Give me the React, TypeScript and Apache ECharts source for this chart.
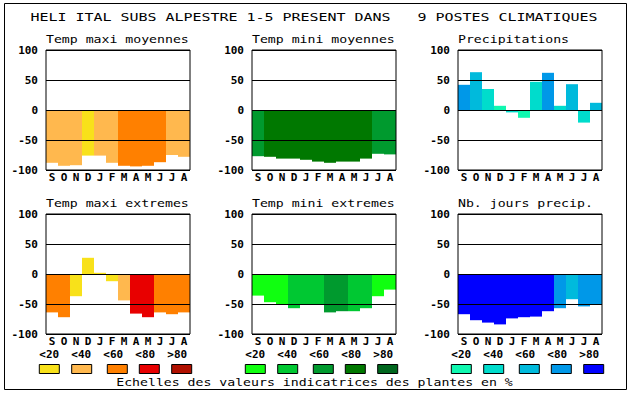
import React, { useEffect, useRef } from 'react';
import * as echarts from 'echarts';

const months = ['S', 'O', 'N', 'D', 'J', 'F', 'M', 'A', 'M', 'J', 'J', 'A'];
const yTicks = { min: -100, max: 100, interval: 50 };

const mainTitle = 'HELI ITAL SUBS ALPESTRE 1-5 PRESENT DANS   9 POSTES CLIMATIQUES';
const panelTitles = [
  'Temp maxi moyennes',
  'Temp mini moyennes',
  'Precipitations',
  'Temp maxi extremes',
  'Temp mini extremes',
  'Nb. jours precip.',
];
const scaleLabels = ['<20', '<40', '<60', '<80', '>80'];
const caption = 'Echelles des valeurs indicatrices des plantes en %';

const warmPalette = ['#F8E11A', '#FFB84E', '#FF8000', '#E80000', '#B01000'];
const greenPalette = ['#10FF10', '#00C832', '#009A2E', '#007800', '#00661E'];
const bluePalette = ['#10F8B0', '#00DCCC', '#00BADC', '#0098E8', '#0000FF'];

const tmaxMoy = [-88, -93, -92, -76, -76, -88, -93, -94, -93, -87, -75, -78];
const tmaxMoyClass = [1, 1, 1, 0, 1, 1, 2, 2, 2, 2, 1, 1];

const tminMoy = [-77, -78, -81, -81, -83, -86, -88, -86, -86, -81, -73, -74];
const tminMoyClass = [2, 3, 3, 3, 3, 3, 3, 3, 3, 3, 2, 2];

const precip = [42, 63, 35, 7, -4, -13, 47, 62, 7, 43, -21, 12];
const precipClass = [3, 2, 1, 0, 1, 0, 1, 3, 1, 2, 1, 2];

const tmaxExt = [-64, -72, -37, 27, 2, -12, -44, -66, -72, -64, -67, -64];
const tmaxExtClass = [2, 2, 0, 0, 0, 0, 1, 3, 3, 2, 2, 2];

const tminExt = [-36, -47, -50, -57, -50, -50, -64, -62, -62, -57, -37, -26];
const tminExtClass = [0, 0, 0, 1, 1, 1, 2, 2, 1, 1, 0, 0];

const nbJours = [-67, -77, -81, -84, -74, -72, -71, -62, -57, -42, -54, -50];
const nbJoursClass = [4, 4, 4, 4, 4, 4, 4, 4, 3, 2, 3, 3];

const panels = [
  { values: tmaxMoy, cls: tmaxMoyClass, palette: warmPalette },
  { values: tminMoy, cls: tminMoyClass, palette: greenPalette },
  { values: precip, cls: precipClass, palette: bluePalette },
  { values: tmaxExt, cls: tmaxExtClass, palette: warmPalette },
  { values: tminExt, cls: tminExtClass, palette: greenPalette },
  { values: nbJours, cls: nbJoursClass, palette: bluePalette },
];
const legendPalettes = [warmPalette, greenPalette, bluePalette];

const FONT = "'DejaVu Sans Mono', 'Liberation Mono', monospace";

export default function App() {
  const ref = useRef<HTMLDivElement>(null);
  useEffect(() => {
    const chart = echarts.init(ref.current!, null, { renderer: 'svg' });
    const lefts = [46, 252, 458];
    const tops = [50, 214];
    const W = 144;
    const H = 120;

    const grids: any[] = [];
    const xAxes: any[] = [];
    const yAxes: any[] = [];
    const series: any[] = [];
    const graphics: any[] = [];

    panels.forEach((p, i) => {
      const left = lefts[i % 3];
      const top = tops[Math.floor(i / 3)];
      grids.push({
        left,
        top,
        width: W,
        height: H,
        show: true,
        borderColor: '#000',
        borderWidth: 1,
        backgroundColor: 'transparent',
        z: 5,
      });
      xAxes.push({
        type: 'category',
        gridIndex: i,
        data: months,
        axisLine: { show: false },
        axisTick: { show: false },
        splitLine: { show: false },
        axisLabel: {
          interval: 0,
          margin: 2,
          color: '#000',
          fontFamily: FONT,
          fontWeight: 'bold',
          fontSize: 11,
        },
      });
      yAxes.push({
        type: 'value',
        gridIndex: i,
        min: yTicks.min,
        max: yTicks.max,
        interval: yTicks.interval,
        z: 6,
        axisLine: { show: false },
        axisTick: { show: false },
        splitLine: { show: true, lineStyle: { color: '#000', width: 1 } },
        axisLabel: {
          margin: 8,
          color: '#000',
          fontFamily: FONT,
          fontWeight: 'bold',
          fontSize: 11,
        },
      });
      series.push({
        type: 'bar',
        xAxisIndex: i,
        yAxisIndex: i,
        barCategoryGap: '0%',
        barGap: '0%',
        z: 2,
        data: p.values.map((v, k) => ({
          value: v,
          itemStyle: { color: p.palette[p.cls[k]] },
        })),
      });
      graphics.push({
        type: 'text',
        x: left,
        y: top - 11,
        scaleX: 1.2,
        style: {
          text: panelTitles[i],
          fontFamily: FONT,
          fontSize: 11,
          fill: '#000',
          align: 'left',
          verticalAlign: 'middle',
        },
      });
    });

    graphics.push({
      type: 'text',
      x: 314,
      y: 17,
      scaleX: 1.36,
      style: {
        text: mainTitle,
        fontFamily: FONT,
        fontSize: 11,
        fill: '#000',
        align: 'center',
        verticalAlign: 'middle',
      },
    });

    const boxOffsets = [0, 32.4, 68, 100, 132.4];
    legendPalettes.forEach((pal, g) => {
      const base = lefts[g] + 3.3;
      scaleLabels.forEach((lab, k) => {
        graphics.push({
          type: 'text',
          x: base + k * 32,
          y: 354,
          style: {
            text: lab,
            fontFamily: FONT,
            fontSize: 11,
            fontWeight: 'bold',
            fill: '#000',
            align: 'center',
            verticalAlign: 'middle',
          },
        });
        graphics.push({
          type: 'rect',
          shape: { x: base + boxOffsets[k] - 10, y: 364.5, width: 20, height: 9 },
          style: { fill: pal[k], stroke: '#000', lineWidth: 1 },
        });
      });
    });

    graphics.push({
      type: 'text',
      x: 314.5,
      y: 382,
      scaleX: 1.2,
      style: {
        text: caption,
        fontFamily: FONT,
        fontSize: 11,
        fill: '#000',
        align: 'center',
        verticalAlign: 'middle',
      },
    });

    graphics.push({
      type: 'rect',
      z: -1,
      shape: { x: 4.5, y: 3.5, width: 622, height: 386 },
      style: { fill: 'none', stroke: '#000', lineWidth: 1 },
    });

    chart.setOption({
      animation: false,
      backgroundColor: '#fff',
      grid: grids,
      xAxis: xAxes,
      yAxis: yAxes,
      series,
      graphic: graphics,
    });
    return () => chart.dispose();
  }, []);
  return (
    <div
      ref={ref}
      style={{ position: 'fixed', left: 0, top: 0, width: 630, height: 394, background: '#fff' }}
    />
  );
}
